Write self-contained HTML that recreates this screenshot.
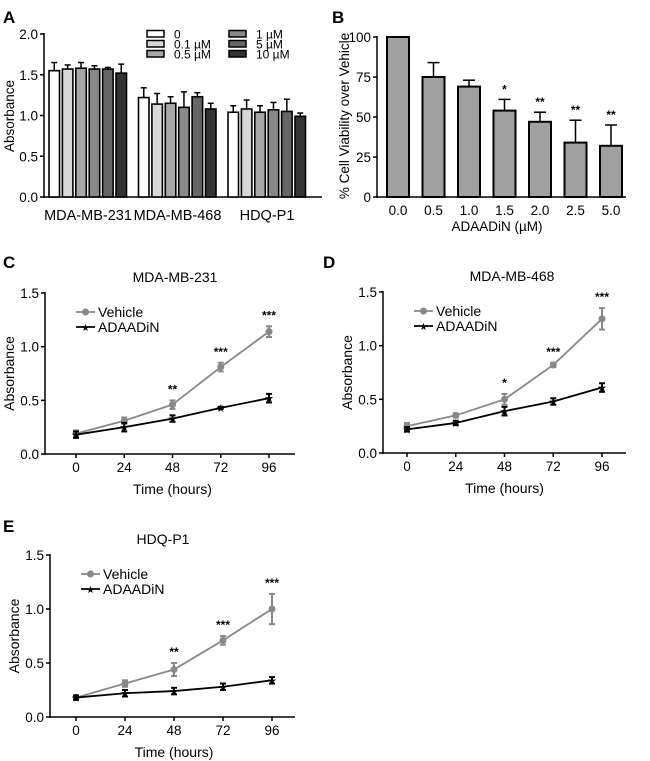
<!DOCTYPE html>
<html><head><meta charset="utf-8"><style>
body{margin:0;background:#fff}
svg{display:block;font-family:"Liberation Sans",Arial,sans-serif}
</style></head><body>
<svg id="fig" width="650" height="761" viewBox="0 0 650 761"></svg>
<script>
// Panel A data
const aGroups=["MDA-MB-231","MDA-MB-468","HDQ-P1"];
const aConc=["0","0.1 µM","0.5 µM","1 µM","5 µM","10 µM"];
const aVals=[[1.55,1.57,1.58,1.57,1.57,1.52],[1.22,1.14,1.15,1.10,1.23,1.08],[1.04,1.08,1.04,1.07,1.05,0.99]];
const aErr=[[0.10,0.05,0.07,0.04,0.02,0.11],[0.12,0.13,0.08,0.19,0.05,0.07],[0.08,0.11,0.08,0.09,0.15,0.04]];
const aTicks=["0.0","0.5","1.0","1.5","2.0"];
// Panel B data
const bCats=["0.0","0.5","1.0","1.5","2.0","2.5","5.0"];
const bVals=[100,75,69,54,47,34,32];
const bErr=[0,9,4,7,6,14,13];
const bStars=["","","","*","**","**","**"];
const bTicks=["0","25","50","75","100"];
// Time course data
const times=[0,24,48,72,96];
const lineTicks=["0.0","0.5","1.0","1.5"];
const cVeh=[0.19,0.31,0.46,0.81,1.14], cVehErr=[0.03,0.03,0.04,0.04,0.05];
const cAda=[0.18,0.25,0.33,0.43,0.52], cAdaErr=[0.03,0.04,0.03,0.01,0.04];
const cStars=["","","**","***","***"];
const dVeh=[0.25,0.35,0.50,0.82,1.25], dVehErr=[0.03,0.02,0.05,0.02,0.10];
const dAda=[0.22,0.28,0.39,0.48,0.61], dAdaErr=[0.02,0.02,0.04,0.03,0.04];
const dStars=["","","*","***","***"];
const eVeh=[0.18,0.31,0.44,0.71,1.00], eVehErr=[0.02,0.03,0.06,0.04,0.14];
const eAda=[0.18,0.22,0.24,0.28,0.34], eAdaErr=[0.02,0.03,0.03,0.03,0.03];
const eStars=["","","**","***","***"];

const svg=document.getElementById('fig');
const NS="http://www.w3.org/2000/svg";
function mk(tag,attrs,text,name,parent){const e=document.createElementNS(NS,tag);for(const k in attrs)e.setAttribute(k,attrs[k]);if(text!==undefined&&text!==null)e.textContent=text;


(parent||svg).appendChild(e);return e;}
function ln(x1,y1,x2,y2,name,col,w){return mk('line',{x1,y1,x2,y2,stroke:col||'#000','stroke-width':w||1.5},null,name);}
function tx(x,y,t,name,o){o=o||{};return mk('text',Object.assign({x,y,'font-size':13.5,fill:'#000','text-anchor':'middle'},o),t,name);}

// ===== Panel A =====
tx(3,23,"A","panel-a-label",{'font-size':17,'font-weight':'bold','text-anchor':'start'});
const aY=v=>197-v*81.5, aAx=44;
ln(aAx,33,aAx,198,"a-y-axis");ln(aAx-1,197,322,197,"a-x-axis");
aTicks.forEach((t,i)=>{const y=aY(+t);ln(aAx-4,y,aAx,y,"a-y-tick");tx(aAx-6,y+5,t,"a-y-tick-label",{'text-anchor':'end'});});
tx(14,116,"Absorbance","a-y-axis-title",{transform:"rotate(-90 14 116)"});
const aCols=["#fff","#d8d8d8","#a8a8a8","#888","#666","#333"];
aVals.forEach((g,gi)=>{g.forEach((v,bi)=>{const x=49+gi*89.5+bi*13.4,w=10.5,y=aY(v),top=aY(v+aErr[gi][bi]);
 ln(x+w/2,top,x+w/2,y,"a-error-bar");ln(x+w/2-3,top,x+w/2+3,top,"a-error-cap");
 mk('rect',{x,y,width:w,height:197-y,fill:aCols[bi],stroke:'#000','stroke-width':1.6},null,"a-bar");});
 tx(49+gi*89.5+39,220,aGroups[gi],"a-x-tick-label",{'font-size':14.5});});
aConc.forEach((c,i)=>{const col=Math.floor(i/3),r=i%3,x=col?229:147,y=30.5+r*10;
 mk('rect',{x,y,width:17,height:6.5,fill:aCols[i],stroke:'#000','stroke-width':1.5},null,"a-legend-swatch");
 tx(x+27,y+8,c,"a-legend-entry",{'text-anchor':'start','font-size':12});});

// ===== Panel B =====
tx(332,23,"B","panel-b-label",{'font-size':17,'font-weight':'bold','text-anchor':'start'});
const bY=v=>197-v*1.6, bAx=377;
ln(bAx,36,bAx,198,"b-y-axis");ln(bAx-1,197,626,197,"b-x-axis");
bTicks.forEach(t=>{const y=bY(+t);ln(bAx-4,y,bAx,y,"b-y-tick");tx(bAx-6,y+5,t,"b-y-tick-label",{'text-anchor':'end'});});
tx(349,116,"% Cell Viability over Vehicle","b-y-axis-title",{transform:"rotate(-90 349 116)"});
bVals.forEach((v,i)=>{const x=387+i*35.5,w=22,y=bY(v);
 if(bErr[i]){const top=bY(v+bErr[i]);ln(x+w/2,top,x+w/2,y,"b-error-bar");ln(x+w/2-6,top,x+w/2+6,top,"b-error-cap");
  if(bStars[i])tx(x+w/2,top-6,bStars[i],"b-significance",{'font-size':12,'font-weight':'bold'});}
 mk('rect',{x,y,width:w,height:197-y,fill:'#a0a0a0',stroke:'#000','stroke-width':2},null,"b-bar");
 tx(x+w/2,215,bCats[i],"b-x-tick-label");});
tx(497,231,"ADAADiN (µM)","b-x-axis-title");

// ===== Line panels =====
function linePanel(o){
 const {ax,y0,y15,x0,x96,xend,label,lx,ly,title,tx0,veh,vehE,ada,adaE,stars}=o;
 const Y=v=>y0-(y0-y15)*v/1.5, X=t=>x0+(x96-x0)*t/96;
 tx(lx,ly,label,"panel-"+label.toLowerCase()+"-label",{'font-size':17,'font-weight':'bold','text-anchor':'start'});
 tx(tx0,y15-11,title,"chart-title",{'font-size':14});
 ln(ax,y15-1,ax,y0+1,"y-axis");ln(ax-1,y0,xend,y0,"x-axis");
 lineTicks.forEach(t=>{const y=Y(+t);ln(ax-4,y,ax,y,"y-tick");tx(ax-6,y+5,t,"y-tick-label",{'text-anchor':'end'});});
 times.forEach(t=>{ln(X(t),y0,X(t),y0+4,"x-tick");tx(X(t),y0+18,String(t),"x-tick-label");});
 tx((x0+x96)/2,y0+40,"Time (hours)","x-axis-title",{'font-size':14});
 tx(ax-31,(y0+y15)/2,"Absorbance","y-axis-title",{'font-size':14,transform:`rotate(-90 ${ax-31} ${(y0+y15)/2})`});
 function series(vals,errs,col,name,marker){
  mk('polyline',{points:vals.map((v,i)=>X(times[i])+','+Y(vals[i])).join(' '),fill:'none',stroke:col,'stroke-width':1.8},null,name+"-line");
  vals.forEach((v,i)=>{const x=X(times[i]),a=Y(v+errs[i]),b=Y(v-errs[i]);
   ln(x,a,x,b,name+"-error-bar",col,2);ln(x-3,a,x+3,a,name+"-error-cap",col,2);ln(x-3,b,x+3,b,name+"-error-cap",col,2);
   if(marker==='c')mk('circle',{cx:x,cy:Y(v),r:3.5,fill:col},null,name+"-point");
   else mk('text',{x,y:Y(v)+4,'font-size':11,'text-anchor':'middle',fill:col},"★",name+"-point");});
 }
 series(veh,vehE,'#888',"vehicle",'c');
 series(ada,adaE,'#000',"adaadin",'s');
 stars.forEach((s,i)=>{if(s)tx(X(times[i]),Y(veh[i]+vehE[i])-7,s,"significance",{'font-size':12,'font-weight':'bold'});});
 const lgx=ax+31, lgy=y15+19;
 ln(lgx,lgy,lgx+19,lgy,"legend-vehicle-line",'#888',1.8);mk('circle',{cx:lgx+9.5,cy:lgy,r:3.5,fill:'#888'},null,"legend-vehicle-marker");
 tx(lgx+22,lgy+5,"Vehicle","legend-vehicle",{'text-anchor':'start','font-size':14});
 ln(lgx,lgy+15,lgx+19,lgy+15,"legend-adaadin-line",'#000',1.8);mk('text',{x:lgx+9.5,y:lgy+19,'font-size':10,'text-anchor':'middle'},"★","legend-adaadin-marker");
 tx(lgx+22,lgy+20,"ADAADiN","legend-adaadin",{'text-anchor':'start','font-size':14});
}
linePanel({ax:45,y0:454,y15:293,x0:76,x96:269,xend:295,label:"C",lx:3,ly:268,title:"MDA-MB-231",tx0:175,veh:cVeh,vehE:cVehErr,ada:cAda,adaE:cAdaErr,stars:cStars});
linePanel({ax:383,y0:453,y15:292,x0:407,x96:602,xend:626,label:"D",lx:323,ly:268,title:"MDA-MB-468",tx0:512,veh:dVeh,vehE:dVehErr,ada:dAda,adaE:dAdaErr,stars:dStars});
linePanel({ax:50,y0:717,y15:555,x0:76,x96:272,xend:295,label:"E",lx:3,ly:532,title:"HDQ-P1",tx0:163,veh:eVeh,vehE:eVehErr,ada:eAda,adaE:eAdaErr,stars:eStars});
</script>
</body></html>
